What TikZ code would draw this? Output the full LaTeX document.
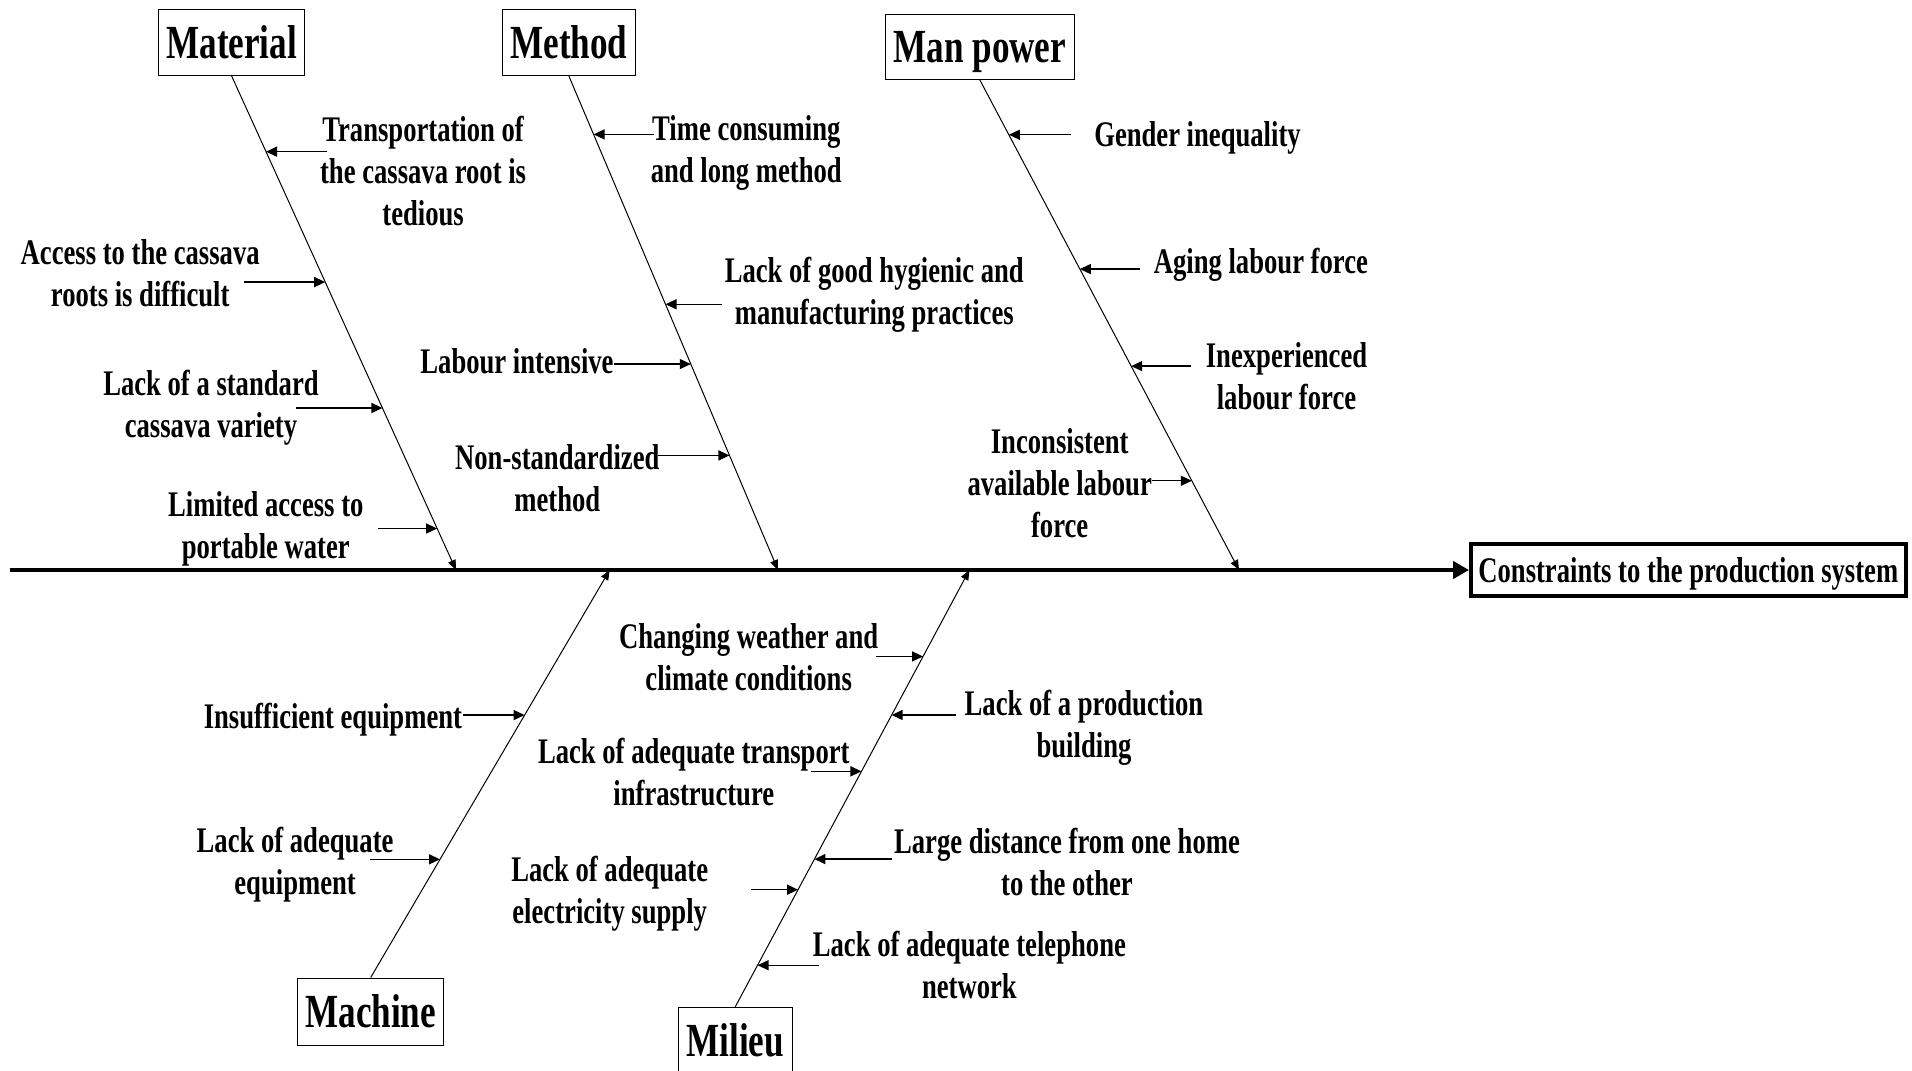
\documentclass[tikz,border=0pt]{standalone}
\usepackage{fontspec}
\setmainfont{Liberation Serif}[FakeStretch=0.74]
\usetikzlibrary{arrows.meta,calc}
\begin{document}
\begin{tikzpicture}[x=1pt,y=-1pt,
  cause/.style={font=\bfseries\fontsize{36}{42}\selectfont, align=center, inner sep=0pt},
  category/.style={draw, line width=1pt, inner sep=0pt,
    font=\bfseries\fontsize{47.5}{50}\selectfont},
  effectbox/.style={draw, line width=3.5pt, inner sep=0pt,
    font=\bfseries\fontsize{36}{42}\selectfont},
  bone/.style={line width=1pt, -{Triangle[length=10pt,width=8pt]}},
  twig/.style={line width=1.4pt, -{Triangle[length=11pt,width=10pt]}},
  spine/.style={line width=4pt, -{Triangle[length=16pt,width=17pt]}}]

\useasboundingbox (0,0) rectangle (1912,1071);

% effect and spine
\node[effectbox, text depth=0pt, minimum width=435, minimum height=52] (eff) at (1688.3,570) {Constraints to the production system};
\coordinate (tail) at (9.8,570);
\draw[spine] (tail) -- (eff.west);

% category boxes
\node[category, minimum width=146.4, minimum height=65.8] (mat) at (231.7,42.7) {Material};
\node[category, minimum width=132.9, minimum height=65.8] (met) at (568.9,42.7) {Method};
\node[category, text depth=0pt, minimum width=189, minimum height=64.7] (man) at (979.8,47) {Man power};
\node[category, minimum width=146.4, minimum height=67] (mac) at (370.7,1011.5) {Machine};
\node[category, minimum width=114.6, minimum height=66] (mil) at (735.3,1040.2) {Milieu};

% bone ends on the spine
\coordinate (matE) at (456,570);
\coordinate (metE) at (778,570);
\coordinate (manE) at (1239,570);
\coordinate (macE) at (609.7,570);
\coordinate (milE) at (969.4,570);

\draw[bone] (mat.south) -- (matE);
\draw[bone] (met.south) -- (metE);
\draw[bone] (man.south) -- (manE);
\draw[bone] (mac.north) -- (macE);
\draw[bone] (mil.north) -- (milE);

% ---- Material ----
\coordinate (a1h) at ($(mat.south)!0.153!(matE)$);
\coordinate (a1t) at ($(a1h)+(61,0)$);
\draw[twig] (a1t) -- (a1h);
\node[cause] (a1) at (423.1,170.7) {Transportation of\\the cassava root is\\tedious};

\coordinate (a2h) at ($(mat.south)!0.417!(matE)$);
\coordinate (a2t) at ($(a2h)+(-81,0)$);
\draw[twig] (a2t) -- (a2h);
\node[cause] (a2) at (140.2,273.1) {Access to the cassava\\roots is difficult};

\coordinate (a3h) at ($(mat.south)!0.672!(matE)$);
\coordinate (a3t) at ($(a3h)+(-86,0)$);
\draw[twig] (a3t) -- (a3h);
\node[cause] (a3) at (211,407.3) {Lack of a standard\\cassava variety};

\coordinate (a4h) at ($(mat.south)!0.916!(matE)$);
\coordinate (a4t) at ($(a4h)+(-59,0)$);
\draw[twig] (a4t) -- (a4h);
\node[cause] (a4) at (265.8,529.3) {Limited access to\\portable water};

% ---- Method ----
\coordinate (b1h) at ($(met.south)!0.118!(metE)$);
\coordinate (b1t) at ($(b1h)+(60,0)$);
\draw[twig] (b1t) -- (b1h);
\node[cause] (b1) at (746.3,153.2) {Time consuming\\and long method};

\coordinate (b2h) at ($(met.south)!0.462!(metE)$);
\coordinate (b2t) at ($(b2h)+(56,0)$);
\draw[twig] (b2t) -- (b2h);
\node[cause] (b2) at (874.3,295.2) {Lack of good hygienic and\\manufacturing practices};

\coordinate (b3h) at ($(met.south)!0.583!(metE)$);
\coordinate (b3t) at ($(b3h)+(-77,0)$);
\draw[twig] (b3t) -- (b3h);
\node[cause] (b3) at (517,361) {Labour intensive};

\coordinate (b4h) at ($(met.south)!0.768!(metE)$);
\coordinate (b4t) at ($(b4h)+(-71,0)$);
\draw[twig] (b4t) -- (b4h);
\node[cause] (b4) at (557.3,478) {Non-standardized\\method};

% ---- Man power ----
\coordinate (c1h) at ($(man.south)!0.112!(manE)$);
\coordinate (c1t) at ($(c1h)+(62,0)$);
\draw[twig] (c1t) -- (c1h);
\node[cause] (c1) at (1197.5,137.8) {Gender inequality};

\coordinate (c2h) at ($(man.south)!0.386!(manE)$);
\coordinate (c2t) at ($(c2h)+(60,0)$);
\draw[twig] (c2t) -- (c2h);
\node[cause] (c2) at (1260.9,264.7) {Aging labour force};

\coordinate (c3h) at ($(man.south)!0.584!(manE)$);
\coordinate (c3t) at ($(c3h)+(60,0)$);
\draw[twig] (c3t) -- (c3h);
\node[cause] (c3) at (1286.5,376.2) {Inexperienced\\labour force};

\coordinate (c4h) at ($(man.south)!0.818!(manE)$);
\coordinate (c4t) at ($(c4h)+(-40,0)$);
\draw[twig] (c4t) -- (c4h);
\node[cause] (c4) at (1059.7,482.9) {Inconsistent\\available labour\\force};

% ---- Machine ----
\coordinate (d1h) at ($(mac.north)!0.644!(macE)$);
\coordinate (d1t) at ($(d1h)+(-62,0)$);
\draw[twig] (d1t) -- (d1h);
\node[cause] (d1) at (332.9,719.5) {Insufficient equipment};

\coordinate (d2h) at ($(mac.north)!0.29!(macE)$);
\coordinate (d2t) at ($(d2h)+(-70,0)$);
\draw[twig] (d2t) -- (d2h);
\node[cause] (d2) at (295.1,865) {Lack of adequate\\equipment};

% ---- Milieu ----
\coordinate (e1h) at ($(mil.north)!0.802!(milE)$);
\coordinate (e1t) at ($(e1h)+(-47,0)$);
\draw[twig] (e1t) -- (e1h);
\node[cause] (e1) at (748.7,657.3) {Changing weather and\\climate conditions};

\coordinate (e2h) at ($(mil.north)!0.668!(milE)$);
\coordinate (e2t) at ($(e2h)+(64,0)$);
\draw[twig] (e2t) -- (e2h);
\node[cause] (e2) at (1084,728) {Lack of a production\\building};

\coordinate (e3h) at ($(mil.north)!0.539!(milE)$);
\coordinate (e3t) at ($(e3h)+(-50,0)$);
\draw[twig] (e3t) -- (e3h);
\node[cause] (e3) at (693.8,772.5) {Lack of adequate transport\\infrastructure};

\coordinate (e4h) at ($(mil.north)!0.338!(milE)$);
\coordinate (e4t) at ($(e4h)+(78,0)$);
\draw[twig] (e4t) -- (e4h);
\node[cause] (e4) at (1067,861.5) {Large distance from one home\\to the other};

\coordinate (e5h) at ($(mil.north)!0.268!(milE)$);
\coordinate (e5t) at ($(e5h)+(-47,0)$);
\draw[twig] (e5t) -- (e5h);
\node[cause] (e5) at (609.7,893.8) {Lack of adequate\\electricity supply};

\coordinate (e6h) at ($(mil.north)!0.095!(milE)$);
\coordinate (e6t) at ($(e6h)+(61,0)$);
\draw[twig] (e6t) -- (e6h);
\node[cause] (e6) at (969.4,964.5) {Lack of adequate telephone\\network};
\end{tikzpicture}
\end{document}
